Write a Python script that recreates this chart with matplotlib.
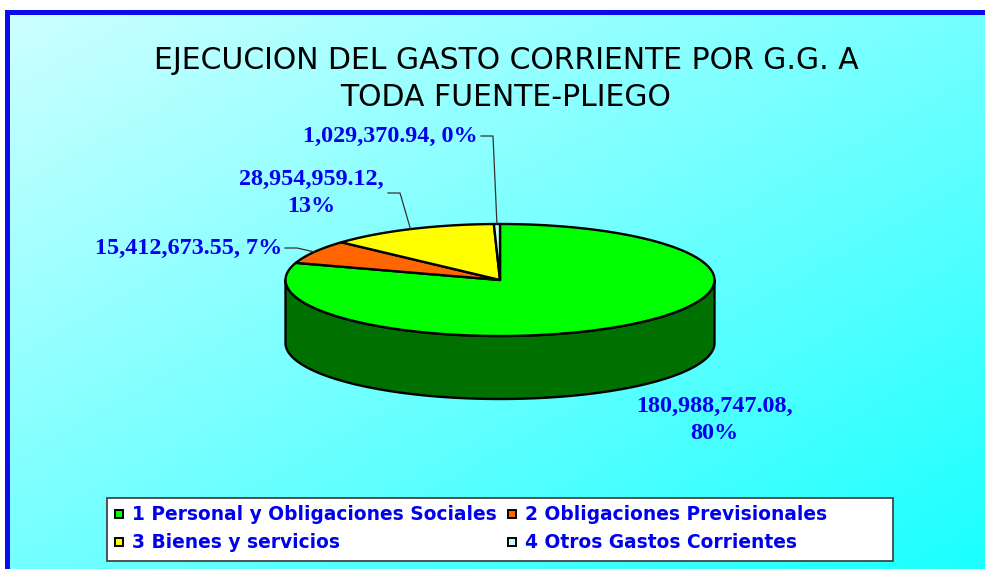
import numpy as np
import matplotlib
matplotlib.use("Agg")
import matplotlib.pyplot as plt
from matplotlib.patches import Polygon, Rectangle

# datos del grafico
categories = ["1 Personal y Obligaciones Sociales", "2 Obligaciones Previsionales",
              "3 Bienes y servicios", "4 Otros Gastos Corrientes"]
values = [180988747.08, 15412673.55, 28954959.12, 1029370.94]
colors = ["#00ff00", "#ff6600", "#ffff00", "#ccffff"]
side_colors = ["#007000", "#a04000", "#a0a000", "#80a0a0"]
title = "EJECUCION DEL GASTO CORRIENTE POR G.G. A\nTODA FUENTE-PLIEGO"

W, H = 985, 569
fig = plt.figure(figsize=(W / 100, H / 100), dpi=100)
ax = fig.add_axes([0, 0, 1, 1])
ax.set_xlim(0, W)
ax.set_ylim(H, 0)
ax.axis('off')

# fondo degradado
xx, yy = np.meshgrid(np.linspace(0, 1, 300), np.linspace(0, 1, 200))
t = (xx + yy) / 2
img = np.dstack([(206 - 180 * t) / 255, np.ones_like(t), np.ones_like(t)])
ax.imshow(img, extent=(5, W, H, 10), aspect='auto', zorder=0, interpolation='bilinear')
ax.add_patch(Rectangle((5, 10), 5, H - 10, color='#0a0af0', lw=0, zorder=1))
ax.add_patch(Rectangle((5, 10), W - 5, 5, color='#0a0af0', lw=0, zorder=1))

ax.text(506, 79, title, ha='center', va='center', fontsize=21.5, family='DejaVu Sans',
        linespacing=1.38, color='black', zorder=5)

# pastel 3D
cx, cy, rx, ry, depth = 500, 280, 214.5, 56, 63


def ell(a, dy=0):
    r = np.radians(a)
    return np.column_stack([cx + rx * np.sin(r), cy - ry * np.cos(r) + dy])


total = sum(values)
fracs = np.array(values) / total
edges = np.concatenate([[0], np.cumsum(fracs) * 360])

# pared lateral (mitad frontal)
for i in range(len(values)):
    a1, a2 = max(edges[i], 90), min(edges[i + 1], 270)
    if a2 > a1:
        ts = np.linspace(a1, a2, 200)
        pts = np.vstack([ell(ts), ell(ts[::-1], depth)])
        ax.add_patch(Polygon(pts, closed=True, fc=side_colors[i], ec='black', lw=1.7,
                             joinstyle='round', zorder=3))

# cara superior
for i in range(len(values)):
    n = max(int((edges[i + 1] - edges[i]) * 2), 3)
    ts = np.linspace(edges[i], edges[i + 1], n)
    pts = np.vstack([[cx, cy], ell(ts)])
    ax.add_patch(Polygon(pts, closed=True, fc=colors[i], ec='black', lw=1.7,
                         joinstyle='round', zorder=4))

# etiquetas
pcts = fracs * 100
label_pos = [(714, 420, 'center', True), (282, 248, 'right', False),
             (311, 193, 'center', True), (478, 136, 'right', False)]
leader_x = [None, 285, 388, 481]
for i in range(len(values)):
    x, y, ha, split = label_pos[i]
    sep = ",\n" if split else ", "
    txt = f"{values[i]:,.2f}{sep}{pcts[i]:.0f}%"
    ax.text(x, y, txt, ha=ha, va='center', multialignment='center', fontsize=17.4,
            family='Liberation Serif', weight='bold', color='#0000f0', linespacing=1.32, zorder=5)
    if leader_x[i] is not None:
        mid = (edges[i] + edges[i + 1]) / 2
        ex, ey = ell(np.array([mid]))[0]
        lx = leader_x[i]
        ax.plot([lx, lx + 12, ex], [y, y, ey], color='#333333', lw=0.9, zorder=5)

# leyenda
ax.add_patch(Rectangle((107, 498), 786, 63, fc='white', ec='#444444', lw=1.3, zorder=5))
leg_rows = [514, 542]
leg_cols = [118.5, 512]
for i, cat in enumerate(categories):
    mx = leg_cols[i % 2]
    my = leg_rows[i // 2]
    ax.add_patch(Rectangle((mx - 4, my - 4), 8, 8, fc=colors[i], ec='black', lw=1.4, zorder=6))
    ax.text(mx + 13, my, cat, ha='left', va='center', fontsize=13.4, family='DejaVu Sans',
            weight='bold', color='#0000f0', zorder=6)

fig.savefig('out.png', dpi=100)
